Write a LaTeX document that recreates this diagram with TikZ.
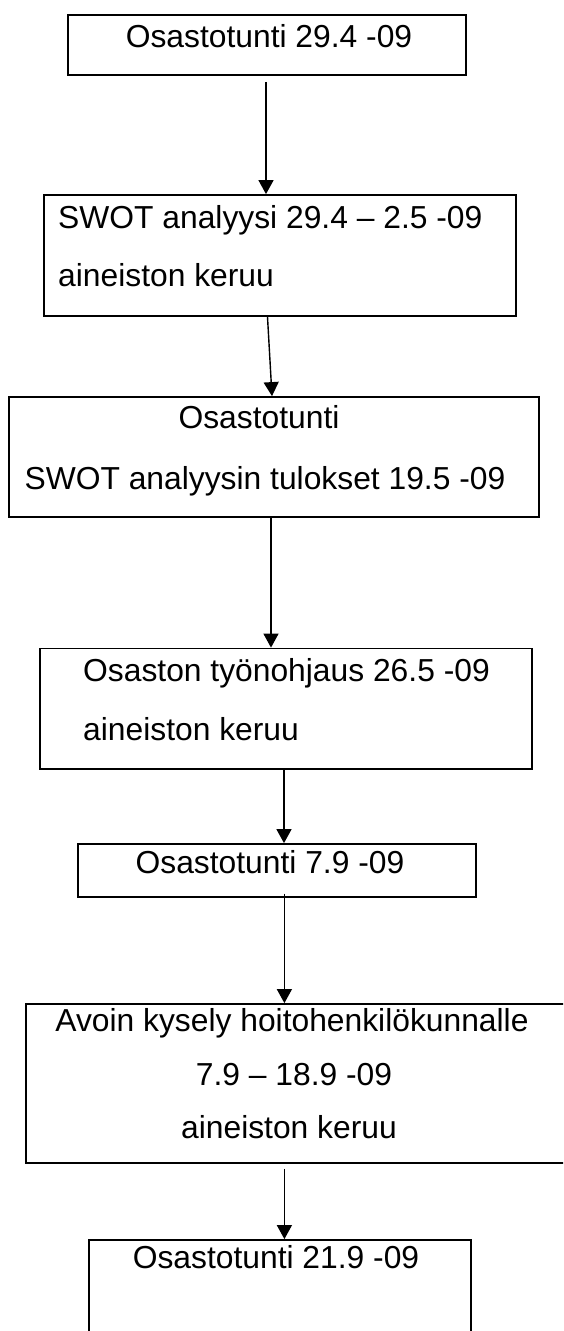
\documentclass[tikz,border=0pt]{standalone}
\usepackage{fontspec}
\setmainfont{Liberation Sans}
\usetikzlibrary{arrows.meta}
\begin{document}
\begin{tikzpicture}[x=1pt,y=-1pt,
  stage/.style={draw=black,line width=1.8pt,inner sep=0pt,fill=none},
  label/.style={inner sep=0pt,font=\fontsize{31.8pt}{38pt}\selectfont},
  flow/.style={line width=1.4pt,-{Triangle[width=15pt,length=14pt]}}]
\clip (0,0) rectangle (563,1331);
% process stages
\node[stage,minimum width=398pt,minimum height=60pt] (b1) at (267,45) {};
\node[stage,minimum width=472pt,minimum height=121pt] (b2) at (280,255.5) {};
\node[stage,minimum width=530.4pt,minimum height=120pt] (b3) at (273.8,457) {};
\node[stage,minimum width=492pt,minimum height=120.5pt] (b4) at (286,708.75) {};
\node[stage,minimum width=398.4pt,minimum height=53pt] (b5) at (276.8,870.5) {};
\node[stage,minimum width=549pt,minimum height=159pt] (b6) at (300.5,1083.5) {};
\node[stage,minimum width=382.3pt,minimum height=160pt] (b7) at (279.85,1320) {};
% stage texts
\node[label,anchor=base] (t1) at (269,47) {Osastotunti 29.4 -09};
\node[label,anchor=base west] (t2a) at (58,228) {SWOT analyysi 29.4 – 2.5 -09};
\node[label,anchor=base west] (t2b) at (58,286) {aineiston keruu};
\node[label,anchor=base] (t3a) at (259,428.5) {Osastotunti};
\node[label,anchor=base west] (t3b) at (24.4,489) {SWOT analyysin tulokset 19.5 -09};
\node[label,anchor=base west] (t4a) at (83,681) {Osaston työnohjaus 26.5 -09};
\node[label,anchor=base west] (t4b) at (83,740) {aineiston keruu};
\node[label,anchor=base] (t5) at (270,873) {Osastotunti 7.9 -09};
\node[label,anchor=base] (t6a) at (292,1031.6) {Avoin kysely hoitohenkilökunnalle};
\node[label,anchor=base] (t6b) at (294,1085) {7.9 – 18.9 -09};
\node[label,anchor=base] (t6c) at (289,1138) {aineiston keruu};
\node[label,anchor=base] (t7) at (276,1268.5) {Osastotunti 21.9 -09};
% arrow start points
\coordinate (s1) at ([xshift=-1pt,yshift=-6pt]b1.south);
\coordinate (s2) at ([xshift=-12.5pt]b2.south);
\coordinate (s3) at ([xshift=-2.8pt]b3.south);
\coordinate (s4) at ([xshift=-2pt]b4.south);
\coordinate (s5) at ([xshift=7.6pt,yshift=4.4pt]b5.south);
\coordinate (s6) at ([xshift=-16.1pt,yshift=-5pt]b6.south);
% connectors
\draw[flow] (s1) -- (s1 |- b2.north);
\draw[flow] (s2) -- ([xshift=-1.8pt]b3.north);
\draw[flow] (s3) -- (s3 |- b4.north);
\draw[flow] (s4) -- (s4 |- b5.north);
\draw[flow] (s5) -- (s5 |- b6.north);
\draw[flow] (s6) -- (s6 |- b7.north);
\end{tikzpicture}
\end{document}
